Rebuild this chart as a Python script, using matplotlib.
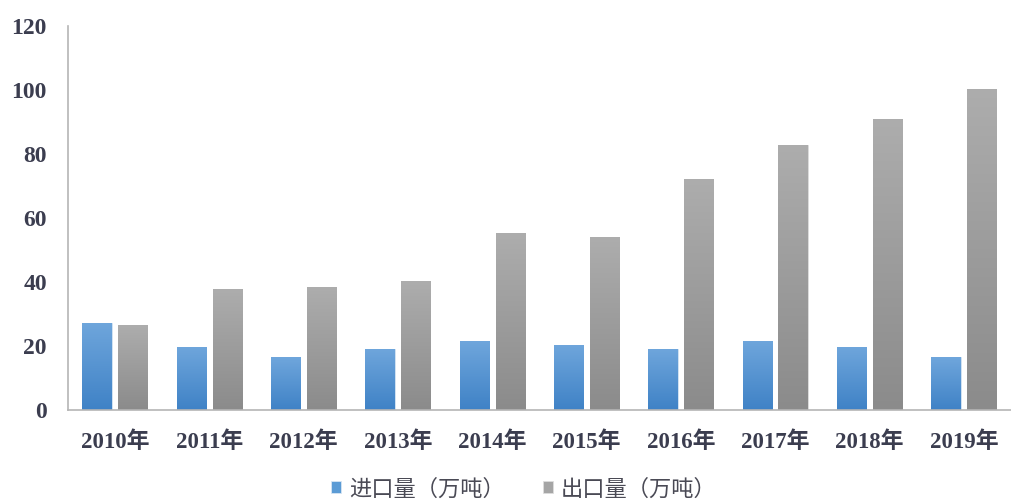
import numpy as np
import matplotlib
matplotlib.use("Agg")
import matplotlib.pyplot as plt
from matplotlib.colors import LinearSegmentedColormap

years = ["2010年", "2011年", "2012年", "2013年", "2014年", "2015年", "2016年", "2017年", "2018年", "2019年"]
imports = [27.2, 19.7, 16.5, 19.1, 21.5, 20.4, 19.1, 21.6, 19.7, 16.5]
exports = [26.5, 37.8, 38.4, 40.3, 55.3, 54.0, 72.2, 83.0, 91.0, 100.5]
series_names = ["进口量（万吨）", "出口量（万吨）"]
yticks = [0, 20, 40, 60, 80, 100, 120]

fig = plt.figure(figsize=(10.11, 5.04), dpi=100)
ax = fig.add_axes([0.067, 0.186, 0.933, 0.762])

x = np.arange(len(years))
w = 0.31
off = 0.19
blue_cmap = LinearSegmentedColormap.from_list("b", ["#3f82c6", "#6fa6dc"])
gray_cmap = LinearSegmentedColormap.from_list("g", ["#8b8b8b", "#adadad"])

b1 = ax.bar(x - off, imports, w, color="#5b9bd5", edgecolor="#d8e6f3", linewidth=0.6, label=series_names[0])
b2 = ax.bar(x + off, exports, w, color="#a5a5a5", edgecolor="#dedede", linewidth=0.6, label=series_names[1])

grad = np.linspace(0, 1, 256).reshape(-1, 1)
for bars, cmap in ((b1, blue_cmap), (b2, gray_cmap)):
    for p in bars:
        bx, by = p.get_x(), p.get_y()
        bw, bh = p.get_width(), p.get_height()
        im = ax.imshow(grad, cmap=cmap, origin="lower", aspect="auto",
                       extent=[bx, bx + bw, by, by + bh], zorder=p.get_zorder() + 0.1)
        im.set_clip_path(p)

ax.set_xlim(-0.5, len(years) - 0.5)
ax.set_ylim(0, 120)
ax.set_yticks(yticks)
ax.set_xticks(x)
ax.set_xticklabels(years)
for s in ("top", "right"):
    ax.spines[s].set_visible(False)
for s in ("left", "bottom"):
    ax.spines[s].set_color("#b5b5b5")
    ax.spines[s].set_linewidth(1.2)
ax.tick_params(length=0)
ax.tick_params(axis="y", pad=15)
ax.tick_params(axis="x", pad=15)
for t in ax.get_xticklabels() + ax.get_yticklabels():
    t.set_fontfamily(["Liberation Serif", "Noto Sans CJK SC"])
    t.set_fontweight("bold")
    t.set_fontsize(16.5)
    t.set_color("#3b3d4f")
for t in ax.get_yticklabels():
    t.set_fontsize(17)

leg = fig.legend(handles=[b1, b2], labels=series_names, loc="center", bbox_to_anchor=(0.518, 0.03),
                 ncol=2, frameon=False, prop={"family": ["Noto Sans CJK SC"], "size": 16},
                 handlelength=0.45, handleheight=0.45, handletextpad=0.35, columnspacing=1.7)
for t in leg.get_texts():
    t.set_color("#4a4a55")

fig.savefig("out.png", dpi=100)
